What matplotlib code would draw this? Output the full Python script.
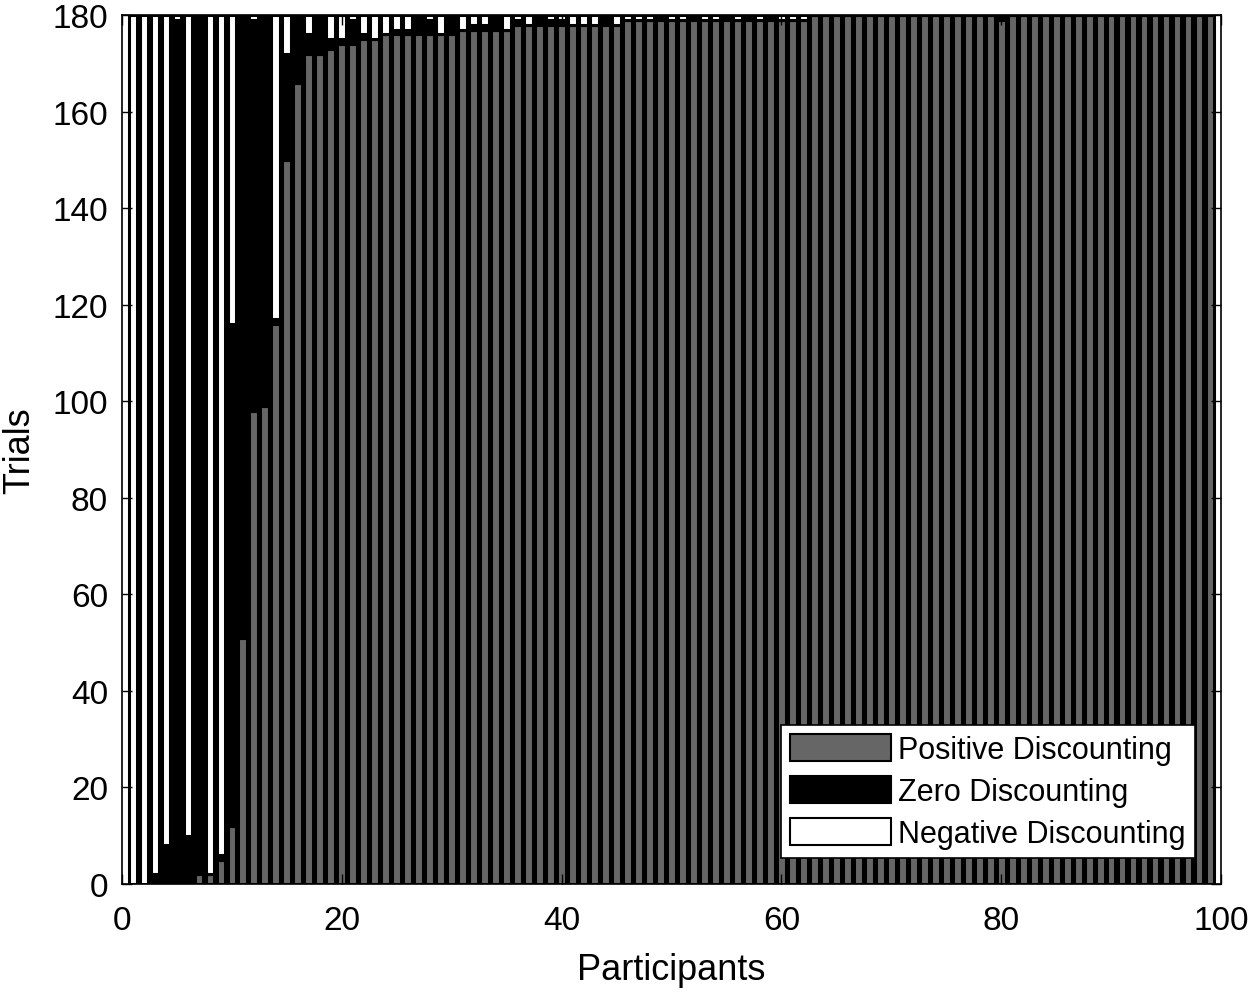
import matplotlib
matplotlib.use('Agg')
import matplotlib.pyplot as plt
import numpy as np

# trials per participant, split by discounting type
positive = [0, 0, 0, 0, 0, 0, 2, 2, 5, 12,
            51, 98, 99, 116, 150, 166, 172, 172, 173, 174,
            174, 175, 175, 176, 176, 176, 176, 176, 176, 176,
            177, 177, 177, 177, 177, 178, 178, 178, 178, 178,
            178, 178, 178, 178, 178, 179, 179, 179, 179, 179,
            179, 179, 179, 179, 179, 179, 179, 179, 179, 179,
            179, 179, 180, 180, 180, 180, 180, 180, 180, 180,
            180, 180, 180, 180, 180, 180, 180, 180, 180, 179,
            180, 180, 180, 180, 180, 180, 180, 180, 180, 180,
            180, 180, 180, 180, 180, 180, 180, 180, 180]
zero = [0, 0, 2, 8, 179, 10, 178, 0, 1, 104,
        129, 81, 81, 1, 22, 14, 4, 8, 2, 1,
        5, 1, 0, 0, 1, 1, 4, 3, 0, 4,
        0, 1, 1, 3, 0, 1, 0, 2, 1, 1,
        0, 0, 0, 2, 0, 0, 0, 0, 1, 0,
        0, 1, 0, 0, 1, 0, 1, 0, 1, 0,
        0, 0, 0, 0, 0, 0, 0, 0, 0, 0,
        0, 0, 0, 0, 0, 0, 0, 0, 0, 1,
        0, 0, 0, 0, 0, 0, 0, 0, 0, 0,
        0, 0, 0, 0, 0, 0, 0, 0, 0]
negative = [180, 180, 178, 172, 1, 170, 0, 178, 174, 64,
            0, 1, 0, 63, 8, 0, 4, 0, 5, 5,
            1, 4, 5, 4, 3, 3, 0, 1, 4, 0,
            3, 2, 2, 0, 3, 1, 2, 0, 1, 1,
            2, 2, 2, 0, 2, 1, 1, 1, 0, 1,
            1, 0, 1, 1, 0, 1, 0, 1, 0, 1,
            1, 1, 0, 0, 0, 0, 0, 0, 0, 0,
            0, 0, 0, 0, 0, 0, 0, 0, 0, 0,
            0, 0, 0, 0, 0, 0, 0, 0, 0, 0,
            0, 0, 0, 0, 0, 0, 0, 0, 0]
labels = ['Positive Discounting', 'Zero Discounting', 'Negative Discounting']
colors = ['#666666', 'k', 'w']

plt.rcParams['font.family'] = ['Liberation Sans', 'DejaVu Sans']

pos = np.array(positive)
zer = np.array(zero)
neg = np.array(negative)
x = np.arange(1, len(pos) + 1)

fig = plt.figure(figsize=(12.5, 9.95), dpi=100)
ax = fig.add_axes([0.0976, 0.1106, 0.8792, 0.8733])

bottoms = [np.zeros(len(pos)), pos, pos + zer]
for vals, bot, col, lab in zip([pos, zer, neg], bottoms, colors, labels):
    ax.bar(x, vals, width=0.8, bottom=bot, color=col, edgecolor='k',
           linewidth=2.2, label=lab)

ax.set_xlim(0, 100)
ax.set_ylim(0, 180)
ax.set_xticks(np.arange(0, 101, 20))
ax.set_yticks(np.arange(0, 181, 20))
ax.tick_params(direction='in', length=7, width=1, top=True, right=True,
               labelsize=24)
ax.tick_params(axis='x', pad=15)
ax.tick_params(axis='y', pad=10)
for sp in ax.spines.values():
    sp.set_linewidth(1.2)
ax.set_xlabel('Participants', fontsize=26, labelpad=12)
ax.set_ylabel('Trials', fontsize=26, labelpad=11)

leg = ax.legend(loc='lower right', fontsize=22, frameon=True, fancybox=False,
                framealpha=1, edgecolor='k', handlelength=3.3,
                handleheight=1.0, handletextpad=0.25, labelspacing=0.35,
                borderpad=0.3, borderaxespad=0.85)
leg.get_frame().set_linewidth(1.2)
for h in leg.legend_handles:
    h.set_linewidth(1.5)

plt.savefig('out.png', dpi=100)
